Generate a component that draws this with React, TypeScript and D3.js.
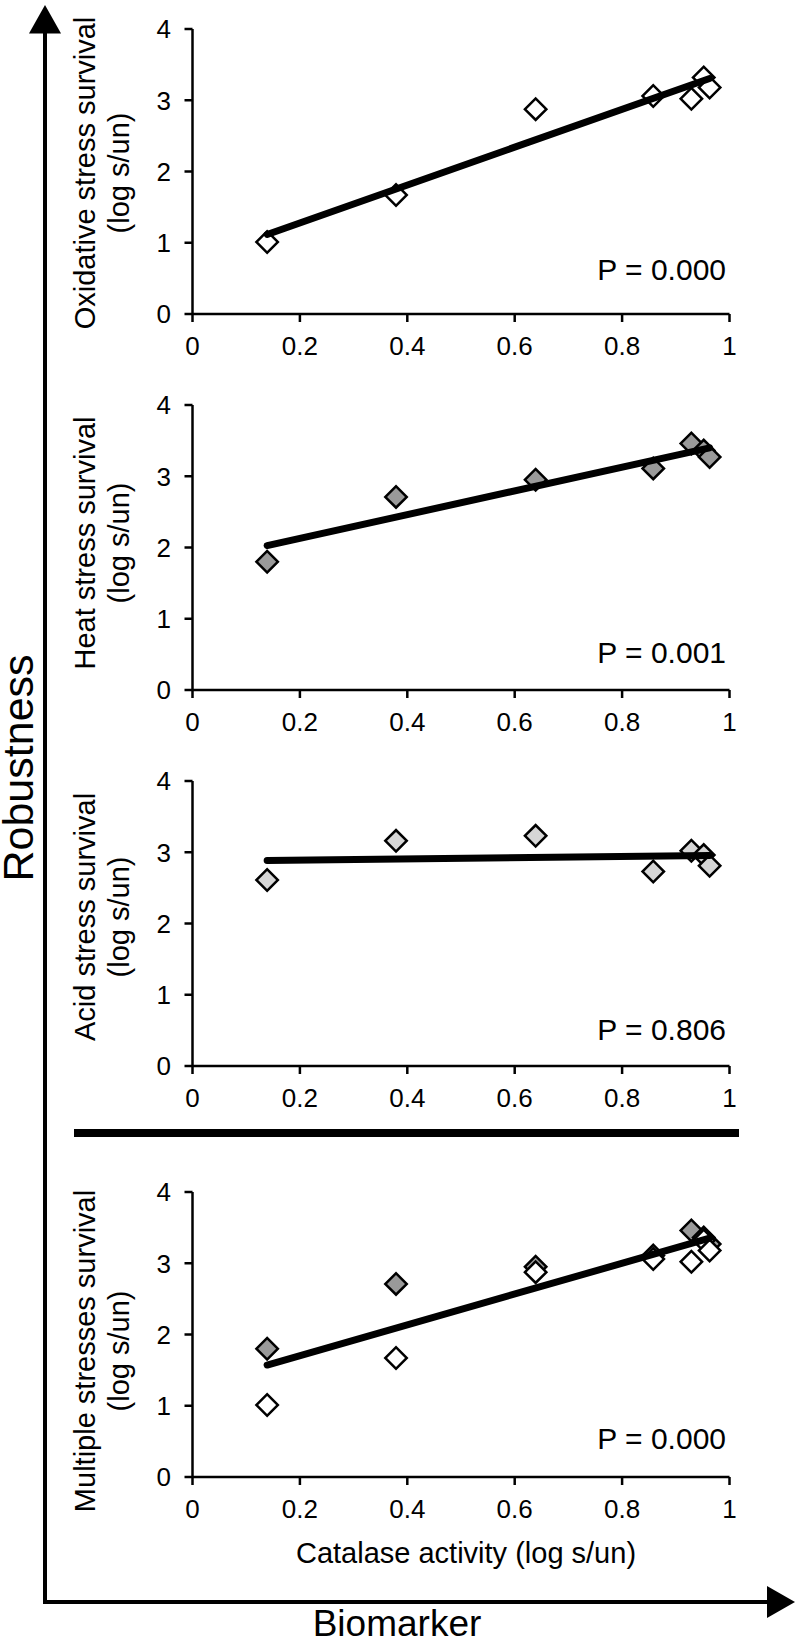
import React from 'react';
import * as d3 from 'd3';

// ---- data ----
const catalase = [0.139, 0.379, 0.639, 0.858, 0.929, 0.952, 0.963];
const oxidative = [1.01, 1.67, 2.875, 3.06, 3.02, 3.32, 3.18];
const heat = [1.8, 2.71, 2.95, 3.11, 3.46, 3.36, 3.27];
const acid = [2.61, 3.16, 3.23, 2.73, 3.02, 2.96, 2.81];
const xTicks = [0, 0.2, 0.4, 0.6, 0.8, 1];
const yTicks = [0, 1, 2, 3, 4];
const panelNames = [
  'Oxidative stress survival',
  'Heat stress survival',
  'Acid stress survival',
  'Multiple stresses survival',
];
const pLabels = ['P = 0.000', 'P = 0.001', 'P = 0.806', 'P = 0.000'];
const unitLabel = '(log s/un)';
const xTitle = 'Catalase activity (log s/un)';
const yArrowTitle = 'Robustness';
const xArrowTitle = 'Biomarker';

// ---- styling / layout ----
const FONT = "'Liberation Sans', Arial, Helvetica, sans-serif";
const WHITE = '#ffffff';
const GRAY = '#9a9a9a';
const LIGHT = '#d6d6d6';

const panelSeries = [
  [{ values: oxidative, fill: WHITE }],
  [{ values: heat, fill: GRAY }],
  [{ values: acid, fill: LIGHT }],
  [
    { values: heat, fill: GRAY },
    { values: oxidative, fill: WHITE },
  ],
];

const panelTop = [29, 405, 781, 1192];
const plotH = 285;
const labelCenter = [173, 543, 917, 1351];
const pOffset = [34, 27, 26, 28];

const x = d3.scaleLinear().domain([0, 1]).range([192.5, 729.5]);

function fit(xs: number[], ys: number[]) {
  const mx = d3.mean(xs) as number;
  const my = d3.mean(ys) as number;
  let sxy = 0;
  let sxx = 0;
  xs.forEach((xv, i) => {
    sxy += (xv - mx) * (ys[i] - my);
    sxx += (xv - mx) * (xv - mx);
  });
  const b = sxy / sxx;
  return { a: my - b * mx, b };
}

const diamond = d3.symbol(d3.symbolSquare, 230)();

function Panel({ idx }: { idx: number }) {
  const top = panelTop[idx];
  const y = d3.scaleLinear().domain([0, 4]).range([top + plotH, top]);
  const series = panelSeries[idx];
  const allX: number[] = [];
  const allY: number[] = [];
  series.forEach((s) => {
    s.values.forEach((v, i) => {
      allX.push(catalase[i]);
      allY.push(v);
    });
  });
  const { a, b } = fit(allX, allY);
  const [x0, x1] = d3.extent(catalase) as [number, number];
  const line = d3
    .line<number>()
    .x((d) => x(d))
    .y((d) => y(a + b * d));
  const y0 = y(0);
  const lc = labelCenter[idx];
  return (
    <g>
      {/* axes */}
      <line x1={x(0)} x2={x(1)} y1={y0} y2={y0} stroke="#000" strokeWidth={2.5} />
      <line x1={x(0)} x2={x(0)} y1={y(0)} y2={y(4)} stroke="#000" strokeWidth={2.5} />
      {yTicks.map((t) => (
        <g key={'yt' + t}>
          <line x1={x(0) - 8} x2={x(0)} y1={y(t)} y2={y(t)} stroke="#000" strokeWidth={2.5} />
          <text
            x={171}
            y={y(t) + 9.3}
            textAnchor="end"
            fontSize={26}
            fontFamily={FONT}
          >
            {String(t)}
          </text>
        </g>
      ))}
      {xTicks.map((t) => (
        <g key={'xt' + t}>
          <line x1={x(t)} x2={x(t)} y1={y0} y2={y0 + 8} stroke="#000" strokeWidth={2.5} />
          <text x={x(t)} y={y0 + 41} textAnchor="middle" fontSize={26} fontFamily={FONT}>
            {String(t)}
          </text>
        </g>
      ))}
      {/* y label */}
      <text
        transform={`translate(95,${lc}) rotate(-90)`}
        textAnchor="middle"
        fontSize={29}
        fontFamily={FONT}
      >
        {panelNames[idx]}
      </text>
      <text
        transform={`translate(129,${lc}) rotate(-90)`}
        textAnchor="middle"
        fontSize={29}
        fontFamily={FONT}
      >
        {unitLabel}
      </text>
      {/* points */}
      {series.map((s, si) =>
        s.values.map((v, i) => (
          <path
            key={`p${si}-${i}`}
            d={diamond as string}
            transform={`translate(${x(catalase[i])},${y(v)}) rotate(45)`}
            fill={s.fill}
            stroke="#000"
            strokeWidth={2.5}
          />
        ))
      )}
      {/* trend line */}
      <path
        d={line([x0, x1]) as string}
        fill="none"
        stroke="#000"
        strokeWidth={7}
        strokeLinecap="round"
      />
      {/* P value */}
      <text
        x={726}
        y={y0 - pOffset[idx]}
        textAnchor="end"
        fontSize={30}
        fontFamily={FONT}
      >
        {pLabels[idx]}
      </text>
    </g>
  );
}

export default function App() {
  return (
    <svg
      width={796}
      height={1640}
      viewBox="0 0 796 1640"
      style={{ position: 'absolute', left: 0, top: 0, background: '#fff' }}
    >
      <rect x={0} y={0} width={796} height={1640} fill="#fff" />
      {[0, 1, 2, 3].map((i) => (
        <Panel key={i} idx={i} />
      ))}
      {/* separator */}
      <line x1={74} x2={739} y1={1133} y2={1133} stroke="#000" strokeWidth={8} />
      {/* x title */}
      <text x={466} y={1563} textAnchor="middle" fontSize={29} fontFamily={FONT}>
        {xTitle}
      </text>
      {/* big arrows */}
      <line x1={45} x2={45} y1={30} y2={1603.5} stroke="#000" strokeWidth={4} />
      <path d="M45,5 L29,33.5 L61,33.5 Z" fill="#000" />
      <line x1={43} x2={770} y1={1602} y2={1602} stroke="#000" strokeWidth={4} />
      <path d="M795,1602 L767,1586 L767,1618 Z" fill="#000" />
      <text
        transform="translate(33,768) rotate(-90)"
        textAnchor="middle"
        fontSize={43}
        fontFamily={FONT}
      >
        {yArrowTitle}
      </text>
      <text x={397} y={1636} textAnchor="middle" fontSize={37} fontFamily={FONT}>
        {xArrowTitle}
      </text>
    </svg>
  );
}
